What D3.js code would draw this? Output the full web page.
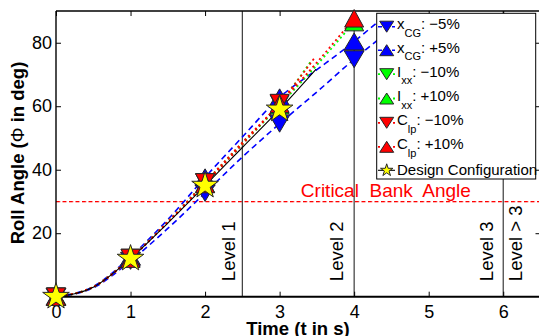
<!DOCTYPE html>
<html>
<head>
<meta charset="utf-8">
<script src="https://cdn.jsdelivr.net/npm/d3@7"></script>
<style>
  html, body { margin: 0; padding: 0; background: #fff; }
  svg { display: block; font-family: "Liberation Sans", Arial, Helvetica, sans-serif; }
</style>
</head>
<body>
<svg id="chart" width="539" height="336"></svg>
<script>
// Roll angle time histories for the design configuration and parameter variations
const xTicks = [0, 1, 2, 3, 4, 5, 6];
const yTicks = [20, 40, 60, 80];

const tXcgMinus = [0, 0.5, 1, 1.5, 2, 2.5, 3, 3.5, 4, 4.35];
const vXcgMinus = [0, 2.8, 11.3, 21.5, 32.7, 44, 54.5, 64.5, 74.8, 81.5];
const tXcgPlus  = [0, 0.5, 1, 1.5, 2, 2.5, 3, 3.5, 4, 4.35];
const vXcgPlus  = [0, 3.2, 12.6, 24.3, 37.6, 50.3, 62.8, 71.5, 80.4, 87.2];
const tIxxMinus = [0, 0.5, 1, 1.5, 2, 2.5, 3, 3.43];
const vIxxMinus = [0, 3.1, 12.2, 23.6, 36, 48.4, 60.8, 74.5];
const tIxxPlus  = [0, 0.5, 1, 1.5, 2, 2.5, 3, 3.5, 4];
const vIxxPlus  = [0, 3, 12.1, 23.5, 35.6, 48, 60.3, 73, 86.5];
const tClpMinus = [0, 0.5, 1, 1.5, 2, 2.5, 3, 3.48];
const vClpMinus = [0, 3.1, 12.2, 23.6, 36, 48.6, 61, 75.6];
const tClpPlus  = [0, 0.5, 1, 1.5, 2, 2.5, 3, 3.5, 4];
const vClpPlus  = [0, 3, 12, 23.4, 35.5, 48, 60.8, 73.8, 87.7];
const tDesign   = [0, 0.5, 1, 1.5, 2, 2.5, 3, 3.49];
const vDesign   = [0, 3, 12, 23.2, 35, 47, 59, 71.7];

const legendMain = ["x", "x", "I", "I", "C", "C", "Design Configuration"];
const legendSub  = ["CG", "CG", "xx", "xx", "lp", "lp", ""];
const legendTail = [": \u22125%", ": +5%", ": \u221210%", ": +10%", ": \u221210%", ": +10%", ""];

const levelTimes  = [2.5, 4, 6];
const levelLabels = ["Level 1", "Level 2", "Level 3", "Level > 3"];
const criticalAngle = 30;
const criticalLabel = "Critical  Bank  Angle";

const series = [
  { t: tXcgMinus, v: vXcgMinus, color: "#0000ff", dash: "6,4",  marker: "down", big: true },
  { t: tXcgPlus,  v: vXcgPlus,  color: "#0000ff", dash: "6,4",  marker: "up",   big: true },
  { t: tIxxMinus, v: vIxxMinus, color: "#00ff00", dash: "2,3",  marker: "down" },
  { t: tIxxPlus,  v: vIxxPlus,  color: "#00ff00", dash: "2,3",  marker: "up" },
  { t: tClpMinus, v: vClpMinus, color: "#ff0000", dash: "2,3",  marker: "down" },
  { t: tClpPlus,  v: vClpPlus,  color: "#ff0000", dash: "2,3",  marker: "up" },
  { t: tDesign,   v: vDesign,   color: "#000000", dash: null,   marker: "star" }
];

const svg = d3.select("#chart");
const x = d3.scaleLinear().domain([0, 6.5]).range([56, 540.5]);
const y = d3.scaleLinear().domain([0, 90]).range([296.7, 11]);
const [x0, x1] = [x(0), x(6.5)];
const [yb, yt] = [y(0), y(90)];

// marker shapes
function triPath(dir, w, h) {
  return dir === "up"
    ? `M0,${-h / 2}L${w / 2},${h / 2}L${-w / 2},${h / 2}Z`
    : `M0,${h / 2}L${w / 2},${-h / 2}L${-w / 2},${-h / 2}Z`;
}
function starPath(R) {
  const r = R * 0.382, pts = [];
  for (let i = 0; i < 10; i++) {
    const a = -Math.PI / 2 + i * Math.PI / 5, rr = i % 2 ? r : R;
    pts.push([rr * Math.cos(a), rr * Math.sin(a)]);
  }
  return "M" + pts.map(p => p.join(",")).join("L") + "Z";
}
function markerPath(s) {
  if (s.marker === "star") return starPath(14);
  const w = s.big ? 20 : 19, h = s.big ? 17 : 17.5;
  return triPath(s.marker, w, h);
}
const lineWidth = s => s.dash === "6,4" ? 1.6 : (s.dash ? 1.8 : 1.1);

const defs = svg.append("defs");
defs.append("clipPath").attr("id", "plotClip")
  .append("rect").attr("x", x0).attr("y", yt).attr("width", x1 - x0).attr("height", yb - yt);

// critical bank angle (dashed red rule drawn with a pattern fill)
const yc = Math.round(y(criticalAngle));
const pat = defs.append("pattern").attr("id", "critDash")
  .attr("patternUnits", "userSpaceOnUse").attr("x", x0).attr("y", yc)
  .attr("width", 6.5).attr("height", 2);
pat.append("rect").attr("width", 4).attr("height", 2).attr("fill", "#ff0000");
svg.append("rect")
  .attr("x", x0).attr("y", yc).attr("width", 539 - x0).attr("height", 1.3)
  .attr("fill", "url(#critDash)");
svg.append("text")
  .attr("x", x(3.285)).attr("y", yc - 4)
  .attr("fill", "#ff0000").attr("font-size", 19).style("white-space", "pre")
  .text(criticalLabel);

// handling level boundaries
svg.selectAll("line.level").data(levelTimes).join("line").attr("class", "level")
  .attr("x1", d => x(d)).attr("x2", d => x(d)).attr("y1", yt).attr("y2", yb)
  .attr("stroke", "#3a3a3a").attr("stroke-width", 1.2);

const levelPos = [
  { t: 2.5, dx: -7.5 }, { t: 4, dx: -11 }, { t: 6, dx: -10.5 }, { t: 6, dx: 18.5 }
];
svg.selectAll("text.level").data(levelLabels).join("text").attr("class", "level")
  .attr("transform", (d, i) => `translate(${x(levelPos[i].t) + levelPos[i].dx},${y(4.9)}) rotate(-90)`)
  .attr("font-size", 18.5).attr("fill", "#000")
  .text(d => d);

// time histories
const plot = svg.append("g").attr("clip-path", "url(#plotClip)");
const line = d3.line().curve(d3.curveMonotoneX).x(d => x(d[0])).y(d => y(d[1]));
series.forEach(s => {
  plot.append("path")
    .datum(s.t.map((t, i) => [t, s.v[i]]))
    .attr("d", line)
    .attr("fill", "none")
    .attr("stroke", s.color)
    .attr("stroke-width", lineWidth(s))
    .attr("stroke-dasharray", s.dash);
});

// axes
const axBottom = svg.append("g").attr("transform", `translate(0,${yb})`)
  .call(d3.axisBottom(x).tickValues(xTicks).tickSize(-5).tickPadding(9).tickFormat(d3.format("d")));
const axLeft = svg.append("g").attr("transform", `translate(${x0},0)`)
  .call(d3.axisLeft(y).tickValues(yTicks).tickSize(-5).tickPadding(4));
const axTop = svg.append("g").attr("transform", `translate(0,${yt})`)
  .call(d3.axisTop(x).tickValues(xTicks).tickSize(-5).tickFormat(""));
const axRight = svg.append("g").attr("transform", `translate(${x1},0)`)
  .call(d3.axisRight(y).tickValues(yTicks).tickSize(-5).tickFormat(""));
[axBottom, axLeft, axTop, axRight].forEach(g => {
  g.select(".domain").remove();
  g.selectAll("line").attr("stroke", "#000").attr("stroke-width", 1);
  g.selectAll("text").attr("font-size", 18).attr("fill", "#000")
    .attr("font-family", "\"Liberation Sans\", Arial, sans-serif");
});
svg.append("line").attr("x1", x0).attr("x2", x1).attr("y1", yb).attr("y2", yb)
  .attr("stroke", "#000").attr("stroke-width", 2);
svg.append("line").attr("x1", x0).attr("x2", x1).attr("y1", yt).attr("y2", yt)
  .attr("stroke", "#000").attr("stroke-width", 1.6);
svg.append("line").attr("x1", x0).attr("x2", x0).attr("y1", yt).attr("y2", yb)
  .attr("stroke", "#000").attr("stroke-width", 1.4);
svg.append("line").attr("x1", x1).attr("x2", x1).attr("y1", yt).attr("y2", yb)
  .attr("stroke", "#000").attr("stroke-width", 1.4);

// markers at whole seconds
series.forEach(s => {
  const pts = s.t.map((t, i) => [t, s.v[i]]).filter(d => Number.isInteger(d[0]));
  svg.append("g").selectAll("path").data(pts).join("path")
    .attr("transform", d => `translate(${x(d[0])},${y(d[1])})`)
    .attr("d", markerPath(s))
    .attr("fill", s.marker === "star" ? "#ffff00" : s.color)
    .attr("stroke", "#262626").attr("stroke-width", 1);
});

// axis titles
svg.append("text")
  .attr("x", 298).attr("y", 334.5).attr("text-anchor", "middle")
  .attr("font-size", 18.5).attr("font-weight", "bold").text("Time (t in s)");
const yl = svg.append("text")
  .attr("transform", "translate(24,153) rotate(-90)").attr("text-anchor", "middle")
  .attr("font-size", 18.5).attr("font-weight", "bold");
yl.append("tspan").text("Roll Angle (");
yl.append("tspan").attr("font-weight", "normal").text("\u03A6");
yl.append("tspan").text(" in deg)");

// legend
const lg = svg.append("g");
lg.append("rect").attr("x", 376.7).attr("y", 13.3).attr("width", 159).attr("height", 165.7)
  .attr("fill", "#fff").attr("stroke", "#000").attr("stroke-width", 1);
const rowY = [26.7, 50.2, 74.2, 98.5, 122.8, 146.8, 170.3];
series.forEach((s, i) => {
  const cy = rowY[i];
  lg.append("line").attr("x1", 378).attr("x2", 395).attr("y1", cy).attr("y2", cy)
    .attr("stroke", s.color).attr("stroke-width", lineWidth(s))
    .attr("stroke-dasharray", s.dash === "6,4" ? "4,3" : s.dash);
  lg.append("path").attr("transform", `translate(386.7,${cy})`)
    .attr("d", s.marker === "star" ? starPath(6.5) : triPath(s.marker, 14, 11))
    .attr("fill", s.marker === "star" ? "#ffff00" : s.color)
    .attr("stroke", "#262626").attr("stroke-width", 1);
  const t = lg.append("text").attr("x", 397).attr("y", cy + (legendSub[i] ? 2.5 : 5))
    .attr("font-size", 15).attr("fill", "#000");
  t.append("tspan").text(legendMain[i]);
  if (legendSub[i]) {
    t.append("tspan").attr("font-size", 11).attr("dy", 7.5).text(legendSub[i]);
    t.append("tspan").attr("dy", -7.5).text(legendTail[i]);
  }
});
</script>
</body>
</html>
